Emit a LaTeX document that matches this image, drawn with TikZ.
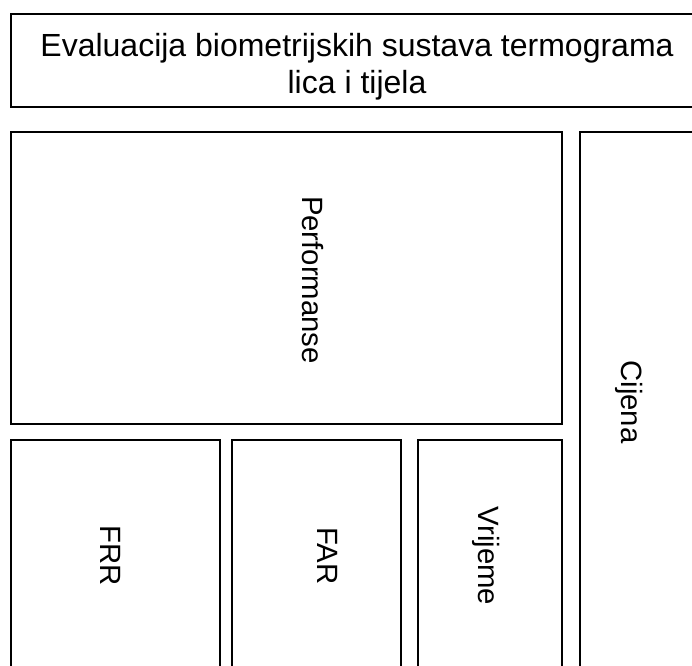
\documentclass[tikz,border=0pt]{standalone}
\usepackage{fontspec}
\setmainfont{Liberation Sans}
\tikzset{every picture/.style={line width=1.5pt}}
\tikzset{okvir/.style={draw=black,line join=miter},
  uspravno/.style={rotate=-90,inner sep=0.75pt,font=\fontsize{22}{24}\selectfont}}

\begin{document}
\begin{tikzpicture}[x=0.75pt,y=0.75pt,yscale=-1,xscale=1]
%uncomment if require: \path (0,666); %set diagram left start at 0, and has height of 666
\useasboundingbox (0,0) rectangle (692,666);
\clip (0,0) rectangle (692,666);
%Shape: Rectangle [id:naslov]
\draw [okvir] (11,14) rectangle (720,107) ;
%Shape: Rectangle [id:performanse]
\draw [okvir] (11,132) rectangle (562,424) ;
%Shape: Rectangle [id:cijena]
\draw [okvir] (580,132) rectangle (720,700) ;
%Shape: Rectangle [id:frr]
\draw [okvir] (11,440) rectangle (220,700) ;
%Shape: Rectangle [id:far]
\draw [okvir] (232,440) rectangle (401,700) ;
%Shape: Rectangle [id:vrijeme]
\draw [okvir] (418,440) rectangle (562,700) ;

% Text Node
\draw (357,67) node [inner sep=0.75pt,align=center,font=\fontsize{24}{27.5}\selectfont] (tNaslov) {Evaluacija biometrijskih sustava termograma\\lica i tijela};
% Text Node
\draw (313,280) node [uspravno] (tPerformanse) {Performanse};
% Text Node
\draw (629,402) node [uspravno] (tCijena) {Cijena};
% Text Node
\draw (111,556) node [uspravno] (tFRR) {FRR};
% Text Node
\draw (328,556) node [uspravno] (tFAR) {FAR};
% Text Node
\draw (486,556) node [uspravno] (tVrijeme) {Vrijeme};
\end{tikzpicture}
\end{document}
